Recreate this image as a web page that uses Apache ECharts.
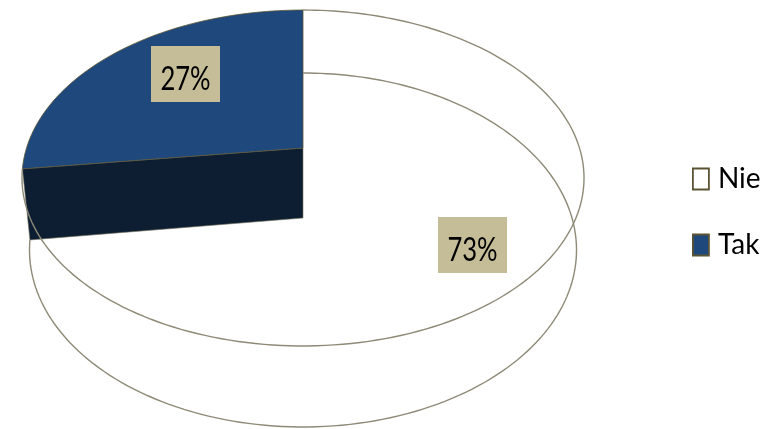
<!DOCTYPE html>
<html><head><meta charset="utf-8">
<style>html,body{margin:0;padding:0;background:#fff}#c{width:774px;height:429px}</style>
<script src="https://cdn.jsdelivr.net/npm/echarts@6/dist/echarts.min.js"></script>
</head><body><div id="c"></div>
<script>
const categories = ['Nie', 'Tak'];
const values = [73, 27];
const labels = ['73%', '27%'];

const total = values.reduce((a, b) => a + b, 0);
const TOP = {cx: 303, cy: 148, a: 276.5, b: 162.6, k: 0.1786};
const BOTTOM = {cx: 303, cy: 218, a: 269, b: 171.2, k: 0.1808};
const LABEL_POS = [[472.5, 245], [185.5, 74]];
const EDGE = '#8d8a78';
const DARK_EDGE = '#5a5434';

function project(p, deg, r) {
  const t = deg * Math.PI / 180, u = r * Math.sin(t), v = -r * Math.cos(t), d = 1 - p.k * v;
  return [p.cx + p.a * u / d, p.cy + p.b * v / d];
}
function arc(p, from, to) {
  const pts = [], n = Math.max(2, Math.ceil((to - from) / 1.5));
  for (let i = 0; i <= n; i++) pts.push(project(p, from + (to - from) * i / n, 1));
  return pts;
}
function renderSlice(index) {
  return function (params, api) {
    const value = api.value(0);
    let before = 0;
    for (let i = 0; i < index; i++) before += values[i];
    const from = before / total * 360, to = (before + value) / total * 360;
    const children = [];
    if (index === 0) {
      children.push({type: 'polyline', shape: {points: arc(BOTTOM, from, to)}, style: {stroke: EDGE, lineWidth: 1.4, fill: null}});
      children.push({type: 'polyline', shape: {points: arc(TOP, from, to)}, style: {stroke: EDGE, lineWidth: 1.4, fill: null}});
    } else {
      const tStart = project(TOP, from, 1), bStart = project(BOTTOM, from, 1);
      children.push({type: 'polygon', shape: {points: [[TOP.cx, TOP.cy], tStart, bStart, [BOTTOM.cx, BOTTOM.cy]]},
        style: {fill: '#0d1e33', stroke: '#77765f', lineWidth: 0.6}});
      children.push({type: 'polygon', shape: {points: [[TOP.cx, TOP.cy]].concat(arc(TOP, from, to))},
        style: {fill: '#1f497d', stroke: DARK_EDGE, lineWidth: 0.8}});
    }
    return {type: 'group', children};
  };
}
function renderLabel(index) {
  return function (params, api) {
    const [x, y] = LABEL_POS[index];
    return {type: 'group', children: [
      {type: 'rect', shape: {x: x - 34.5, y: y - 28, width: 69, height: 56}, style: {fill: '#c4bd97'}},
      {type: 'text', x: x, y: y + 6, scaleX: 0.8, style: {text: labels[index], fill: '#000',
        font: '32px Lato', align: 'center', verticalAlign: 'middle'}}
    ]};
  };
}
const chart = echarts.init(document.getElementById('c'), null, {renderer: 'canvas'});
chart.setOption({
  animation: false,
  backgroundColor: '#fff',
  legend: {
    orient: 'vertical', left: 687, top: 160, itemWidth: 16, itemHeight: 21, itemGap: 38,
    icon: 'rect', selectedMode: false,
    textStyle: {fontFamily: 'Lato', fontSize: 28, color: '#000', padding: [0, 0, 0, 4]},
    data: [
      {name: categories[0], itemStyle: {color: '#fff', borderColor: '#5a5434', borderWidth: 1.8}},
      {name: categories[1], itemStyle: {color: '#1f497d', borderColor: '#5a5434', borderWidth: 1.8}}
    ]
  },
  series: [
    {type: 'custom', name: categories[1], coordinateSystem: 'none', z: 2, silent: true,
      itemStyle: {color: '#1f497d'}, data: [[values[1]]], renderItem: renderSlice(1)},
    {type: 'custom', name: categories[0], coordinateSystem: 'none', z: 3, silent: true,
      itemStyle: {color: '#fff'}, data: [[values[0]]], renderItem: renderSlice(0)},
    {type: 'custom', coordinateSystem: 'none', z: 4, silent: true, data: [[values[1]]], renderItem: renderLabel(1)},
    {type: 'custom', coordinateSystem: 'none', z: 4, silent: true, data: [[values[0]]], renderItem: renderLabel(0)}
  ]
});
</script></body></html>
